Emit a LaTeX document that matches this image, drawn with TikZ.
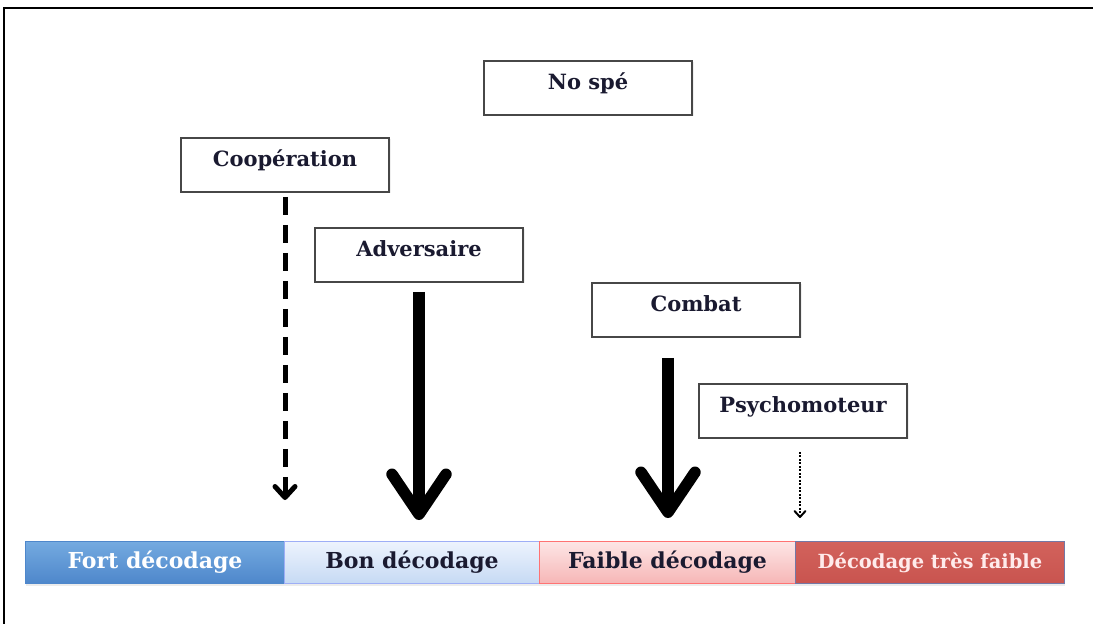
\documentclass[tikz,border=0pt]{standalone}
\usepackage{fontspec}
\setmainfont{DejaVu Serif}
\usetikzlibrary{arrows.meta,shadows}
\definecolor{txt}{HTML}{1A1A30}
\definecolor{blueA}{HTML}{74AAE0}
\definecolor{blueB}{HTML}{4E87CB}
\definecolor{lblueA}{HTML}{EDF3FD}
\definecolor{lblueB}{HTML}{C6DAF4}
\definecolor{pinkA}{HTML}{FDE6E6}
\definecolor{pinkB}{HTML}{F6B6B6}
\definecolor{redA}{HTML}{D2625C}
\definecolor{redB}{HTML}{C9544F}
\begin{document}
\begin{tikzpicture}[x=1pt,y=-1pt,
  box/.style={draw=black!72, line width=1.8pt, fill=white, minimum width=208pt,
    inner sep=0pt, text height=29pt, text depth=25pt, anchor=north,
    font=\bfseries\fontsize{21}{24}\selectfont, text=txt,
    drop shadow={opacity=0.12,shadow xshift=1.5pt,shadow yshift=-1.5pt}},
  seg/.style={minimum height=42pt, inner sep=0pt, anchor=north west, line width=1pt,
    font=\bfseries\fontsize{22}{25}\selectfont},
  bigarrow/.style={line width=11.5pt, -{Straight Barb[length=40pt,width=54pt,round]}},
  dasharrow/.style={line width=5pt, dash pattern=on 18pt off 10pt, -{Straight Barb[length=11pt,width=20pt,round]}},
  dotarrow/.style={line width=2pt, dash pattern=on 2pt off 1.5pt, -{Straight Barb[length=6pt,width=11pt,round]}}
]
\useasboundingbox (0,0) rectangle (1093,624);
\fill[white] (0,0) rectangle (1093,624);
\draw[line width=2.5pt] (4,624) -- (4,8) -- (1093,8);

\node[box] (nospe) at (588,60) {No spé};
\node[box] (coop) at (285,137) {Coopération};
\node[box] (adv) at (419,227) {Adversaire};
\node[box] (comb) at (696,282) {Combat};
\node[box] (psy) at (803,383) {Psychomoteur};

\node[seg, draw=blueB, top color=blueA, bottom color=blueB, text=white, minimum width=259pt,
  drop shadow={opacity=0.15,shadow xshift=0pt,shadow yshift=-2.5pt}] (fort) at (25,541) {Fort décodage};
\node[seg, draw=lblueB!80!blue, top color=lblueA, bottom color=lblueB, text=txt, minimum width=255pt,
  drop shadow={opacity=0.15,shadow xshift=0pt,shadow yshift=-2.5pt}] (bon) at (284,541) {Bon décodage};
\node[seg, draw=red!55, top color=pinkA, bottom color=pinkB, text=txt, minimum width=256pt,
  drop shadow={opacity=0.15,shadow xshift=0pt,shadow yshift=-2.5pt}] (faible) at (539,541) {Faible décodage};
\node[seg, draw=blueB!70!redB, top color=redA, bottom color=redB, text=white!92!red, minimum width=269pt,
  font=\bfseries\fontsize{19.5}{22}\selectfont,
  drop shadow={opacity=0.15,shadow xshift=0pt,shadow yshift=-2.5pt}] (tres) at (795,541) {Décodage très faible};

\coordinate (e1) at (285,500);
\coordinate (e2) at (419,520);
\coordinate (e3) at (668,518);
\coordinate (e4) at (800,518);

\draw[dasharrow, shorten <=4pt] (coop.south) -- (e1);
\draw[bigarrow, shorten <=9pt] (adv.south) -- (e2);
\draw[bigarrow, shorten <=20pt] (comb.south -| e3) -- (e3);
\draw[dotarrow, shorten <=13pt] (psy.south -| e4) -- (e4);
\end{tikzpicture}
\end{document}
